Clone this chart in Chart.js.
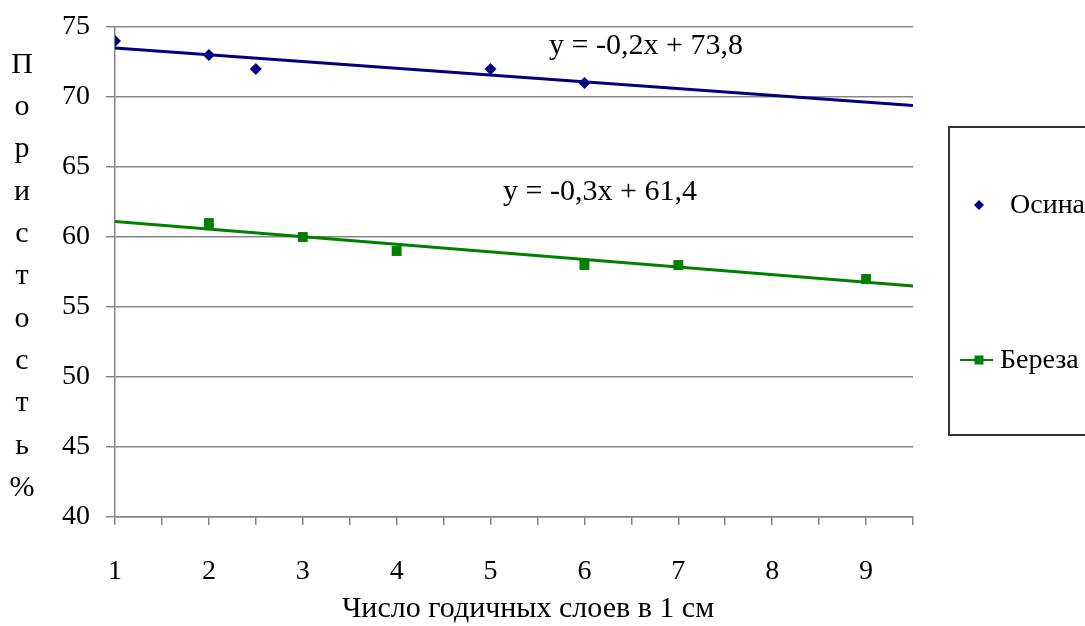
<!DOCTYPE html>
<html>
<head>
<meta charset="utf-8">
<script src="https://cdn.jsdelivr.net/npm/chart.js@4/dist/chart.umd.min.js"></script>
<style>
  html, body { margin: 0; padding: 0; background: #fff; }
  #wrap { position: relative; width: 1085px; height: 626px; }
</style>
</head>
<body>
<div id="wrap"><canvas id="porosityChart" width="1085" height="626"></canvas></div>
<script>
// пористость древесины в зависимости от числа годичных слоев
const osinaX = [1, 2, 2.5, 5, 6];
const osinaY = [74, 73, 72, 72, 71];
const berezaX = [2, 3, 4, 6, 7, 9];
const berezaY = [61, 60, 59, 58, 58, 57];

// линии тренда (концы по оси X)
const trendX = [1, 9.5];
const osinaTrend = [73.5, 69.4];
const berezaTrend = [61.1, 56.5];

const xTickLabels = [1, 2, 3, 4, 5, 6, 7, 8, 9];
const seriesNames = ['Осина', 'Береза'];
const equations = ['y = -0,2x + 73,8', 'y = -0,3x + 61,4'];
const yTitle = 'Пористость%';
const xTitle = 'Число годичных слоев в 1 см';

const NAVY = '#000080';
const GREEN = '#008000';
const GRID = '#858585';
const SERIF = '"Liberation Serif", "Times New Roman", serif';

const toPoints = (xs, ys) => xs.map((x, i) => ({ x: x, y: ys[i] }));

// подписи, уравнения и легенда рисуются поверх графика
const extraText = {
  id: 'extraText',
  afterDraw(chart) {
    const ctx = chart.ctx;
    ctx.save();
    ctx.fillStyle = '#000';
    ctx.textAlign = 'center';
    ctx.textBaseline = 'middle';

    // вертикальная подпись оси Y, по одной букве
    ctx.font = '30px ' + SERIF;
    Array.from(yTitle).forEach((ch, i) => {
      ctx.fillText(ch, 22, 65 + i * 42.3);
    });

    // подпись оси X
    ctx.font = '30px ' + SERIF;
    ctx.fillText(xTitle, 528, 609);

    // уравнения трендов
    ctx.font = '30px ' + SERIF;
    ctx.fillText(equations[0], 646, 46);
    ctx.fillText(equations[1], 600, 192);

    // легенда
    ctx.strokeStyle = '#333';
    ctx.lineWidth = 2;
    ctx.strokeRect(949, 127, 200, 308);

    ctx.fillStyle = NAVY;
    ctx.beginPath();
    ctx.moveTo(979, 200);
    ctx.lineTo(984, 205);
    ctx.lineTo(979, 210);
    ctx.lineTo(974, 205);
    ctx.closePath();
    ctx.fill();

    ctx.strokeStyle = GREEN;
    ctx.lineWidth = 2;
    ctx.beginPath();
    ctx.moveTo(960, 360);
    ctx.lineTo(993, 360);
    ctx.stroke();
    ctx.fillStyle = GREEN;
    ctx.fillRect(974.5, 355.5, 9, 9);

    ctx.fillStyle = '#000';
    ctx.textAlign = 'left';
    ctx.font = '28px ' + SERIF;
    ctx.fillText(seriesNames[0], 1010, 206);
    ctx.fillText(seriesNames[1], 1000, 361);
    ctx.restore();
  }
};

const tickFont = { family: SERIF, size: 28 };

new Chart(document.getElementById('porosityChart').getContext('2d'), {
  type: 'scatter',
  data: {
    datasets: [
      {
        label: seriesNames[0],
        data: toPoints(osinaX, osinaY),
        pointStyle: 'rectRot',
        pointRadius: 6,
        backgroundColor: NAVY,
        borderColor: NAVY,
        borderWidth: 0
      },
      {
        label: seriesNames[1],
        data: toPoints(berezaX, berezaY),
        pointStyle: 'rect',
        pointRadius: 7,
        backgroundColor: GREEN,
        borderColor: GREEN,
        borderWidth: 0
      },
      {
        label: 'тренд ' + seriesNames[0],
        type: 'line',
        data: toPoints(trendX, osinaTrend),
        borderColor: NAVY,
        borderWidth: 3,
        pointRadius: 0,
        fill: false
      },
      {
        label: 'тренд ' + seriesNames[1],
        type: 'line',
        data: toPoints(trendX, berezaTrend),
        borderColor: GREEN,
        borderWidth: 3,
        pointRadius: 0,
        fill: false
      }
    ]
  },
  options: {
    responsive: false,
    animation: false,
    layout: { padding: { left: 0, top: 27, right: 172, bottom: 0 } },
    plugins: {
      legend: { display: false },
      tooltip: { enabled: false }
    },
    scales: {
      x: {
        type: 'linear',
        min: 1,
        max: 9.5,
        afterFit: (scale) => {
          scale.height = 109;
          scale.paddingLeft = 0;
          scale.paddingRight = 0;
        },
        ticks: {
          stepSize: 0.5,
          autoSkip: false,
          maxRotation: 0,
          padding: 30,
          color: '#000',
          font: tickFont,
          callback: (v) => xTickLabels.includes(v) ? String(v) : ''
        },
        grid: {
          drawOnChartArea: false,
          tickLength: 8,
          color: GRID,
          lineWidth: 1.5
        },
        border: { color: GRID, width: 1.5 }
      },
      y: {
        min: 40,
        max: 75,
        afterFit: (scale) => {
          scale.width = 115;
          scale.paddingTop = 0;
          scale.paddingBottom = 0;
        },
        ticks: {
          stepSize: 5,
          padding: 16,
          color: '#000',
          font: tickFont
        },
        grid: {
          tickLength: 9,
          color: GRID,
          lineWidth: 1.5
        },
        border: { color: GRID, width: 1.5 }
      }
    }
  },
  plugins: [extraText]
});
</script>
</body>
</html>
